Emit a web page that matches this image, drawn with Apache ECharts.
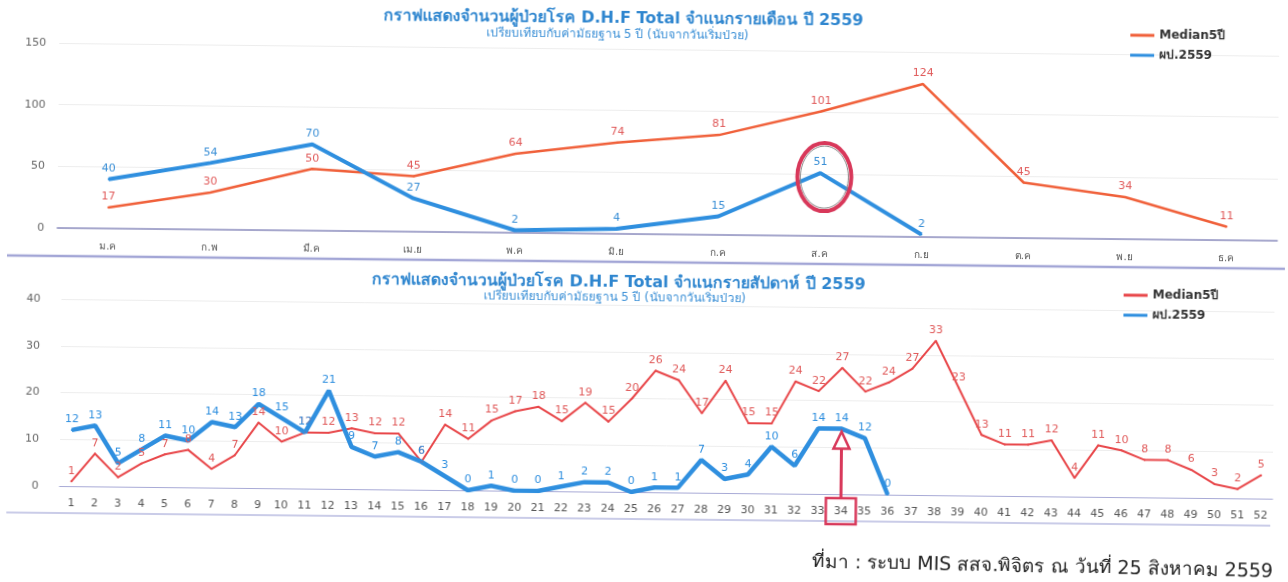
<!DOCTYPE html>
<html>
<head>
<meta charset="utf-8">
<script src="https://cdn.jsdelivr.net/npm/echarts@6/dist/echarts.min.js"></script>
<style>
  html, body { margin: 0; padding: 0; background: #fff; }
  #chart { width: 1288px; height: 582px; transform: rotate(0.6deg); transform-origin: 60px 350px; }
</style>
</head>
<body>
<div id="chart"></div>
<script>
// monthly chart
const months = ["ม.ค", "ก.พ", "มี.ค", "เม.ย", "พ.ค", "มิ.ย", "ก.ค", "ส.ค", "ก.ย", "ต.ค", "พ.ย", "ธ.ค"];
const monthMedian = [17, 30, 50, 45, 64, 74, 81, 101, 124, 45, 34, 11];
const month2559 = [40, 54, 70, 27, 2, 4, 15, 51, 2];

// weekly chart
const weeks = [];
for (let i = 1; i <= 52; i++) weeks.push(String(i));
const weekMedian = [1, 7, 2, 5, 7, 8, 4, 7, 14, 10, 12, 12, 13, 12, 12, 6, 14, 11, 15, 17,
  18, 15, 19, 15, 20, 26, 24, 17, 24, 15, 15, 24, 22, 27, 22, 24, 27, 33, 23, 13,
  11, 11, 12, 4, 11, 10, 8, 8, 6, 3, 2, 5];
const week2559 = [12, 13, 5, 8, 11, 10, 14, 13, 18, 15, 12, 21, 9, 7, 8, 6, 3, 0, 1, 0,
  0, 1, 2, 2, 0, 1, 1, 7, 3, 4, 10, 6, 14, 14, 12, 0];

const topTicks = { min: 0, max: 150, interval: 50 };
const bottomTicks = { min: 0, max: 40, interval: 10 };

const FONT = "Tahoma, 'DejaVu Sans', 'Noto Sans', sans-serif";
const RED = "#e8474a";
const ORANGE = "#f0603a";
const BLUE = "#2f8fdf";
const PINK = "#d8385a";

const chart = echarts.init(document.getElementById("chart"));

function lineSeries(name, data, xi, color, width, labelColor) {
  return {
    name: name,
    type: "line",
    xAxisIndex: xi,
    yAxisIndex: xi,
    data: data,
    symbol: "circle",
    symbolSize: 2,
    itemStyle: { color: color },
    lineStyle: { color: color, width: width },
    label: {
      show: true,
      position: "top",
      distance: 4,
      color: labelColor,
      fontSize: 11,
      fontFamily: FONT,
    },
    emphasis: { disabled: true },
    animation: false,
  };
}

const option = {
  animation: false,
  textStyle: { fontFamily: FONT },
  grid: [
    { left: 56, right: 12, top: 43, height: 185 },
    { left: 61, right: 14, top: 299, height: 187 },
  ],
  xAxis: [
    {
      gridIndex: 0,
      type: "category",
      data: months,
      axisLine: { lineStyle: { color: "#8d8fc0", width: 1.5 } },
      axisTick: { show: false },
      axisLabel: { color: "#555", fontSize: 10, margin: 13 },
    },
    {
      gridIndex: 1,
      type: "category",
      data: weeks,
      axisLine: { lineStyle: { color: "#a8aad6", width: 1.2 } },
      axisTick: { show: false },
      axisLabel: { color: "#555", fontSize: 11, margin: 12, interval: 0 },
    },
  ],
  yAxis: [
    {
      gridIndex: 0,
      type: "value",
      min: topTicks.min,
      max: topTicks.max,
      interval: topTicks.interval,
      axisLine: { show: false },
      axisTick: { show: false },
      axisLabel: { color: "#666", fontSize: 11, margin: 13 },
      splitLine: { lineStyle: { color: "#ededed" } },
    },
    {
      gridIndex: 1,
      type: "value",
      min: bottomTicks.min,
      max: bottomTicks.max,
      interval: bottomTicks.interval,
      axisLine: { show: false },
      axisTick: { show: false },
      axisLabel: { color: "#666", fontSize: 11, margin: 21 },
      splitLine: { lineStyle: { color: "#ededed" } },
    },
  ],
  legend: [
    {
      orient: "vertical",
      left: 1122,
      top: 13,
      itemGap: 8,
      itemWidth: 24,
      itemHeight: 3,
      icon: "rect",
      textStyle: { color: "#333", fontWeight: "bold", fontSize: 12 },
      data: [
        { name: "Median5ปี", itemStyle: { color: ORANGE } },
        { name: "ผป.2559", itemStyle: { color: BLUE } },
      ],
    },
    {
      orient: "vertical",
      left: 1118,
      top: 273,
      itemGap: 8,
      itemWidth: 24,
      itemHeight: 3,
      icon: "rect",
      textStyle: { color: "#333", fontWeight: "bold", fontSize: 12 },
      data: [
        { name: "Median5ปี", itemStyle: { color: RED } },
        { name: "ผป.2559", itemStyle: { color: BLUE } },
      ],
    },
  ],
  series: [
    lineSeries("Median5ปี", monthMedian, 0, ORANGE, 2.5, "#e05a5a"),
    lineSeries("ผป.2559", month2559, 0, BLUE, 4, "#3a8fd6"),
    lineSeries("Median5ปี", weekMedian, 1, RED, 2, "#e05a5a"),
    lineSeries("ผป.2559", week2559, 1, BLUE, 4.5, "#2f8fdf"),
  ],
};

chart.setOption(option);

// annotations placed from the data positions
const aug = chart.convertToPixel({ xAxisIndex: 0, yAxisIndex: 0 }, ["ส.ค", 51]);
const w34 = chart.convertToPixel({ xAxisIndex: 1, yAxisIndex: 1 }, ["34", 14]);
const base1 = chart.convertToPixel({ xAxisIndex: 1, yAxisIndex: 1 }, ["34", 0]);

function centredText(text, x, y, font, fill) {
  return {
    type: "text", x: x, y: y,
    style: { text: text, fill: fill, font: font, align: "center", verticalAlign: "middle" },
  };
}

const graphics = [
  // titles
  centredText("กราฟแสดงจำนวนผู้ป่วยโรค D.H.F Total จำแนกรายเดือน ปี 2559", 620, 13, "bold 16px " + FONT, "#2f86cf"),
  centredText("เปรียบเทียบกับค่ามัธยฐาน 5 ปี (นับจากวันเริ่มป่วย)", 614, 29, "12px " + FONT, "#3a8fd6"),
  centredText("กราฟแสดงจำนวนผู้ป่วยโรค D.H.F Total จำแนกรายสัปดาห์ ปี 2559", 618, 277, "bold 16px " + FONT, "#2f86cf"),
  centredText("เปรียบเทียบกับค่ามัธยฐาน 5 ปี (นับจากวันเริ่มป่วย)", 614, 292, "12px " + FONT, "#3a8fd6"),
  // separators
  { type: "line", shape: { x1: 6, y1: 256, x2: 1284, y2: 256 }, style: { stroke: "#a3a6d6", lineWidth: 2.5 } },
  { type: "line", shape: { x1: 8, y1: 513, x2: 1272, y2: 513 }, style: { stroke: "#b8bbe0", lineWidth: 1.5 } },
  // circle around August
  { type: "ellipse", shape: { cx: aug[0] + 4, cy: aug[1] + 4, rx: 27, ry: 34 }, style: { fill: null, stroke: PINK, lineWidth: 4 }, z: 10 },
  { type: "ellipse", shape: { cx: aug[0] + 4, cy: aug[1] + 4, rx: 24, ry: 31 }, style: { fill: null, stroke: "#8a8a8a", lineWidth: 1 }, z: 10 },
  // arrow to week 34
  { type: "rect", shape: { x: w34[0] - 15, y: base1[1] + 4, width: 30, height: 26 }, style: { fill: null, stroke: PINK, lineWidth: 2.5 }, z: 10 },
  { type: "line", shape: { x1: w34[0], y1: base1[1] + 4, x2: w34[0], y2: w34[1] + 19 }, style: { stroke: PINK, lineWidth: 3 }, z: 10 },
  {
    type: "polygon",
    shape: { points: [[w34[0], w34[1] + 3], [w34[0] - 8, w34[1] + 20], [w34[0] + 8, w34[1] + 20]] },
    style: { fill: "#fff", stroke: PINK, lineWidth: 2.5 }, z: 10,
  },
  // source
  {
    type: "text", x: 814, y: 545, rotation: -0.6 * Math.PI / 180,
    style: { text: "ที่มา : ระบบ MIS สสจ.พิจิตร ณ วันที่ 25 สิงหาคม 2559", fill: "#222", font: "19px " + FONT },
  },
];

chart.setOption({ graphic: graphics });
</script>
</body>
</html>
